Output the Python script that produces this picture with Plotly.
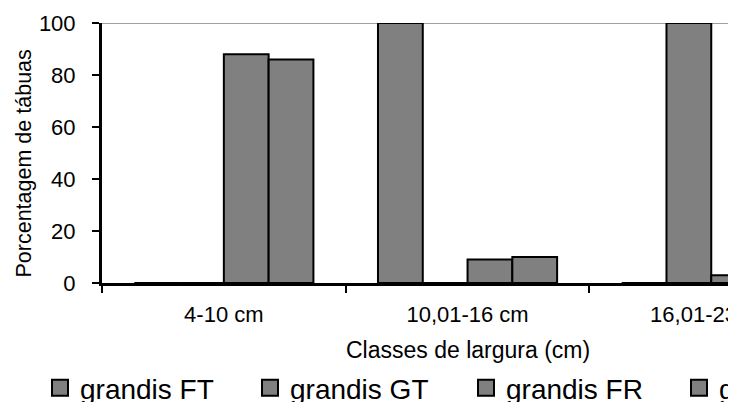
import plotly.graph_objects as go

# ---- data ----
categories = ["4-10 cm", "10,01-16 cm", "16,01-23 cm"]
series_names = ["grandis FT", "grandis GT", "grandis FR", "grandis GR"]
grandis_FT = [0, 100, 0]
grandis_GT = [0, 0, 100]
grandis_FR = [88, 9, 3]
grandis_GR = [86, 10, 4]
y_ticks = [0, 20, 40, 60, 80, 100]
x_title = "Classes de largura (cm)"
y_title = "Porcentagem de tábuas"

series_values = [grandis_FT, grandis_GT, grandis_FR, grandis_GR]

# ---- style ----
W, H = 736, 402
OFF = 8  # page body margin offset
FONT = "Liberation Sans, Arial, sans-serif"
BAR = "#808080"
L = 102 - OFF
T = 23 - OFF
B = H - (283 - OFF)
PLOT_H = H - T - B
PLOT_W = W - L
CAT_W = 243.7

fig = go.Figure()
for name, vals in zip(series_names, series_values):
    fig.add_trace(go.Bar(
        x=categories, y=vals, name=name,
        marker=dict(color=BAR, line=dict(color="black", width=2)),
        showlegend=False,
    ))

# legend entries (one legend per entry so each can be placed like the original)
legend_sym_x = [60, 270, 486, 699]
legends = {}
for i, name in enumerate(series_names):
    lg = "legend" if i == 0 else f"legend{i+1}"
    fig.add_trace(go.Scatter(
        x=[None], y=[None], mode="markers", name=name, legend=lg,
        marker=dict(symbol="square", size=16, color=BAR,
                    line=dict(color="black", width=2)),
        hoverinfo="skip",
    ))
    legends[lg] = dict(
        xref="container", yref="container",
        x=(legend_sym_x[i] - OFF - 20) / W, y=1 - (363 - OFF) / H,
        xanchor="left", yanchor="top", orientation="h",
        font=dict(family=FONT, size=28, color="black"),
        bgcolor="rgba(0,0,0,0)", borderwidth=0,
    )

fig.update_layout(
    width=W, height=H,
    margin=dict(l=L, r=0, t=T, b=B, autoexpand=False),
    paper_bgcolor="white", plot_bgcolor="white",
    barmode="group", bargap=0.265, bargroupgap=0,
    font=dict(family=FONT, size=22, color="black"),
    xaxis=dict(
        type="category", range=[-0.5, -0.5 + PLOT_W / CAT_W],
        showline=True, linecolor="black", linewidth=3,
        ticks="outside", tickson="boundaries", ticklen=7, tickwidth=2, tickcolor="black",
        tickfont=dict(family=FONT, size=22, color="black"),
        ticklabelstandoff=10,
        showgrid=False, zeroline=False,
    ),
    yaxis=dict(
        range=[0, 100], tickvals=y_ticks,
        showline=True, linecolor="black", linewidth=3,
        ticks="outside", ticklen=7, tickwidth=2, tickcolor="black",
        tickfont=dict(family=FONT, size=22, color="black"),
        ticklabelstandoff=12,
        showgrid=False, zeroline=False,
    ),
    shapes=[dict(type="line", xref="paper", yref="y", x0=0, x1=1, y0=100, y1=100,
                 line=dict(color="#a0a0a0", width=2), layer="below")],
    annotations=[
        dict(text=x_title, xref="x", yref="paper", x=1, y=0, yanchor="middle",
             yshift=-67, showarrow=False, font=dict(family=FONT, size=23, color="black")),
        dict(text=y_title, xref="paper", yref="paper", x=(23 - 102) / PLOT_W,
             y=(283 - 163.5) / PLOT_H, xanchor="center", yanchor="middle",
             textangle=-90, showarrow=False, font=dict(family=FONT, size=21.5, color="black")),
    ],
    showlegend=True,
    **legends,
)

fig.write_html("out.html")
